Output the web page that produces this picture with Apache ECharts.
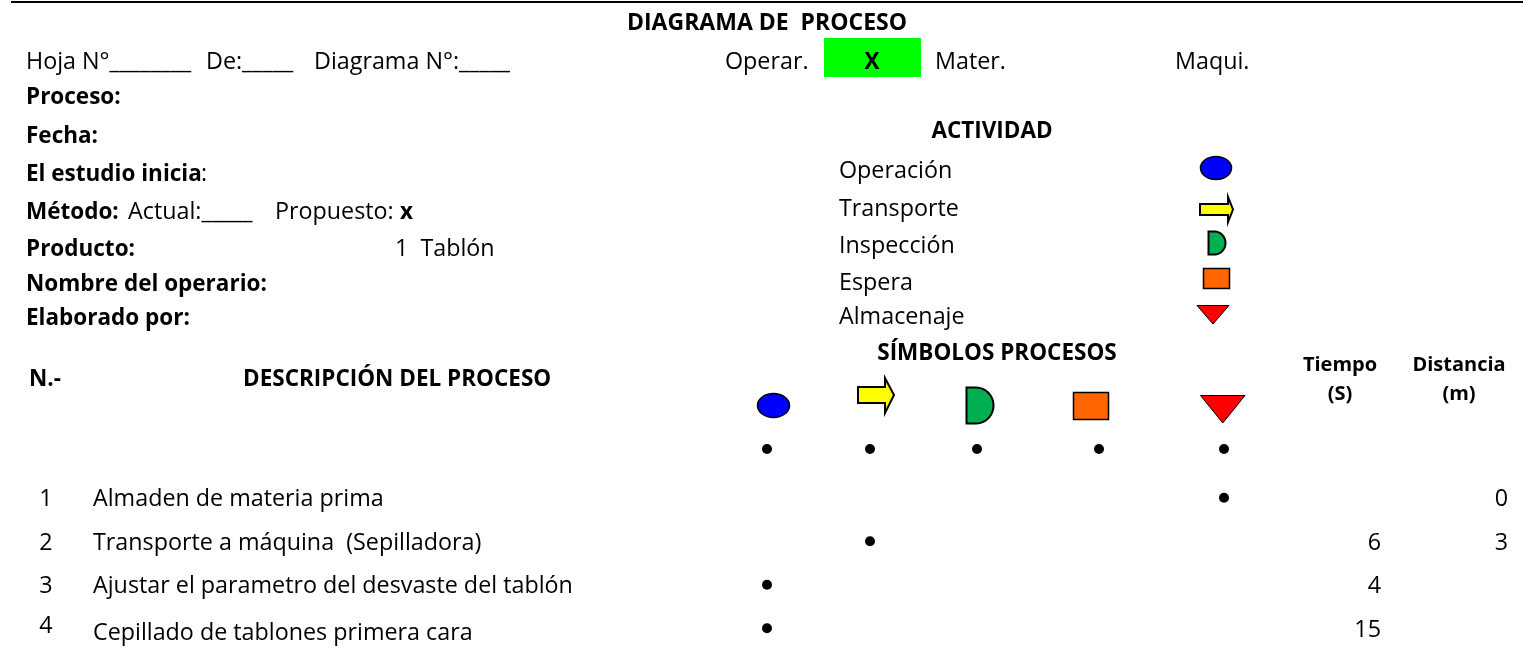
<!doctype html>
<html>
<head>
<meta charset="utf-8" />
<style>
html, body { margin: 0; padding: 0; background: #fff; }
#chart { width: 1523px; height: 661px; }
</style>
<script src="https://cdn.jsdelivr.net/npm/echarts@6/dist/echarts.min.js"></script>
</head>
<body>
<div id="chart"></div>
<script>
// Process table.
const stepNumbers = ['1', '2', '3', '4'];
const stepDescriptions = [
  'Almaden de materia prima',
  'Transporte a máquina  (Sepilladora)',
  'Ajustar el parametro del desvaste del tablón',
  'Cepillado de tablones primera cara'
];
const activities = ['Operación', 'Transporte', 'Inspección', 'Espera', 'Almacenaje'];
const stepActivity = ['Almacenaje', 'Transporte', 'Operación', 'Operación'];
const tiempo = [null, 6, 4, 15];
const distancia = [0, 3, null, null];

// Layout only, in page pixels. The x axis runs 0..1523 so these map straight through.
const columnX = { 'Operación': 767, 'Transporte': 870, 'Inspección': 977, 'Espera': 1099, 'Almacenaje': 1224 };
const numberX = 46;
const descriptionX = 93;
const tiempoX = 1381;
const distanciaX = 1508;
const fontFamily = 'Open Sans';
const fontSize = 23.3;
const boldSize = 22.5;

function text(x, y, content, extra) {
  return {
    type: 'text',
    silent: true,
    x: x,
    y: y,
    style: Object.assign({
      text: content,
      fontFamily: fontFamily,
      fontSize: fontSize,
      fill: '#000',
      verticalAlign: 'middle',
      align: 'left'
    }, extra || {})
  };
}

function bold(x, y, content, extra) {
  return text(x, y, content, Object.assign({ fontWeight: 'bold', fontSize: boldSize }, extra || {}));
}

const stroke = { stroke: '#000', lineWidth: 2 };

function ellipse(cx, cy, rx, ry) {
  return { type: 'ellipse', silent: true, shape: { cx: cx, cy: cy, rx: rx, ry: ry }, style: Object.assign({ fill: '#0000ff' }, stroke, { lineWidth: 1.5 }) };
}

function arrow(x0, x1, headX, yTop, yBottom, bodyTop, bodyBottom) {
  const mid = (bodyTop + bodyBottom) / 2;
  return {
    type: 'polygon',
    silent: true,
    shape: { points: [[x0, bodyTop], [headX, bodyTop], [headX, yTop], [x1, mid], [headX, yBottom], [headX, bodyBottom], [x0, bodyBottom]] },
    style: Object.assign({ fill: '#ffff00' }, stroke)
  };
}

// Flat left edge, half ellipse on the right.
function delay(x0, y0, w, h) {
  const points = [[x0, y0]];
  const flat = w * 0.35;
  const rx = w - flat;
  const ry = h / 2;
  for (let i = 0; i <= 24; i++) {
    const angle = -Math.PI / 2 + Math.PI * i / 24;
    points.push([x0 + flat + rx * Math.cos(angle), y0 + ry + ry * Math.sin(angle)]);
  }
  points.push([x0, y0 + h]);
  return { type: 'polygon', silent: true, shape: { points: points }, style: Object.assign({ fill: '#00b050' }, stroke) };
}

function square(x0, y0, w, h) {
  return { type: 'rect', silent: true, shape: { x: x0, y: y0, width: w, height: h }, style: { fill: '#ff6600', stroke: '#000', lineWidth: 1.5 } };
}

function triangle(x0, x1, y0, y1) {
  return {
    type: 'polygon',
    silent: true,
    shape: { points: [[x0, y0], [x1, y0], [(x0 + x1) / 2, y1]] },
    style: Object.assign({ fill: '#ff0000' }, stroke, { lineWidth: 1 })
  };
}

const headerElements = [
  { type: 'rect', silent: true, shape: { x: 11, y: 1, width: 1512, height: 2 }, style: { fill: '#000' } },
  bold(767, 23, 'DIAGRAMA DE  PROCESO', { align: 'center', fontSize: 23 }),
  text(26, 62, 'Hoja N°________'),
  text(206, 62, 'De:_____'),
  text(314, 62, 'Diagrama N°:_____'),
  text(725, 62, 'Operar.'),
  { type: 'rect', silent: true, shape: { x: 824, y: 38, width: 97, height: 39 }, style: { fill: '#00ff00' } },
  bold(872, 63, 'X', { align: 'center' }),
  text(935, 62, 'Mater.'),
  text(1175, 62, 'Maqui.'),
  bold(26, 98, 'Proceso:'),
  bold(26, 137, 'Fecha:'),
  bold(26, 175, 'El estudio inicia'),
  text(201, 174, ':'),
  bold(26, 213, 'Método:'),
  text(128, 212, 'Actual:_____'),
  text(275, 212, 'Propuesto:'),
  bold(400, 213, 'x'),
  bold(26, 250, 'Producto:'),
  text(395, 249, '1  Tablón'),
  bold(26, 285, 'Nombre del operario:'),
  bold(26, 319, 'Elaborado por:'),
  bold(992, 132, 'ACTIVIDAD', { align: 'center' }),
  text(839, 171, activities[0]),
  text(839, 209, activities[1]),
  text(839, 246, activities[2]),
  text(839, 283, activities[3]),
  text(839, 317, activities[4]),
  ellipse(1216, 168, 15.5, 11.5),
  arrow(1200, 1233, 1228, 197, 222, 204, 215),
  delay(1208.5, 231.5, 17, 23),
  square(1203.5, 268.5, 26, 20),
  triangle(1197, 1229, 305.5, 324),
  bold(29, 380, 'N.-'),
  bold(243, 380, 'DESCRIPCIÓN DEL PROCESO'),
  bold(997, 354, 'SÍMBOLOS PROCESOS', { align: 'center' }),
  bold(1340, 365, 'Tiempo', { align: 'center', fontSize: 20 }),
  bold(1340, 394, '(S)', { align: 'center', fontSize: 20 }),
  bold(1459, 365, 'Distancia', { align: 'center', fontSize: 20 }),
  bold(1459, 394, '(m)', { align: 'center', fontSize: 20 }),
  ellipse(773.5, 405.5, 16, 12),
  arrow(858, 894, 885, 378, 413, 387, 403),
  delay(966.5, 387.5, 27, 36),
  square(1073.5, 392.5, 35, 27),
  triangle(1200.5, 1245, 395.5, 423)
];

function labelItems(values, x, getOffset) {
  return values.map((value, index) => value === null ? null : {
    value: [x, index],
    label: { formatter: String(value), offset: getOffset ? getOffset(index) : [0, 2] }
  }).filter(Boolean);
}

function labelSeries(name, data, position) {
  return {
    name: name,
    type: 'scatter',
    xAxisIndex: 1,
    yAxisIndex: 1,
    symbol: 'circle',
    symbolSize: 0,
    silent: true,
    itemStyle: { opacity: 1 },
    label: { show: true, position: position, distance: 0, color: '#000', fontFamily: fontFamily, fontSize: fontSize },
    data: data
  };
}

// The last row sits slightly off its band in the source sheet.
const numberOffset = index => index === 3 ? [0, -2] : [0, 2];
const descriptionOffset = index => index === 3 ? [0, 5] : [0, 2];

const option = {
  animation: false,
  backgroundColor: '#fff',
  grid: [
    { left: 0, width: 1523, top: 427, height: 44 },
    { left: 0, width: 1523, top: 476, height: 174 }
  ],
  xAxis: [
    { type: 'value', gridIndex: 0, min: 0, max: 1523, show: false },
    { type: 'value', gridIndex: 1, min: 0, max: 1523, show: false }
  ],
  yAxis: [
    { type: 'category', gridIndex: 0, data: ['símbolos'], show: false },
    { type: 'category', gridIndex: 1, data: stepNumbers, inverse: true, show: false }
  ],
  graphic: { elements: headerElements },
  series: [
    {
      name: 'Símbolos',
      type: 'scatter',
      xAxisIndex: 0,
      yAxisIndex: 0,
      symbolSize: 10,
      silent: true,
      itemStyle: { color: '#000', opacity: 1 },
      data: activities.map(activity => [columnX[activity], 0])
    },
    {
      name: 'Pasos',
      type: 'scatter',
      xAxisIndex: 1,
      yAxisIndex: 1,
      symbolSize: 10,
      silent: true,
      itemStyle: { color: '#000', opacity: 1 },
      data: stepActivity.map((activity, index) => [columnX[activity], index])
    },
    labelSeries('N.-', labelItems(stepNumbers, numberX, numberOffset), 'inside'),
    labelSeries('Descripción', labelItems(stepDescriptions, descriptionX, descriptionOffset), 'right'),
    labelSeries('Tiempo', labelItems(tiempo, tiempoX), 'left'),
    labelSeries('Distancia', labelItems(distancia, distanciaX), 'left')
  ]
};

const chart = echarts.init(document.getElementById('chart'), null, { renderer: 'canvas' });
chart.setOption(option);
</script>
</body>
</html>
